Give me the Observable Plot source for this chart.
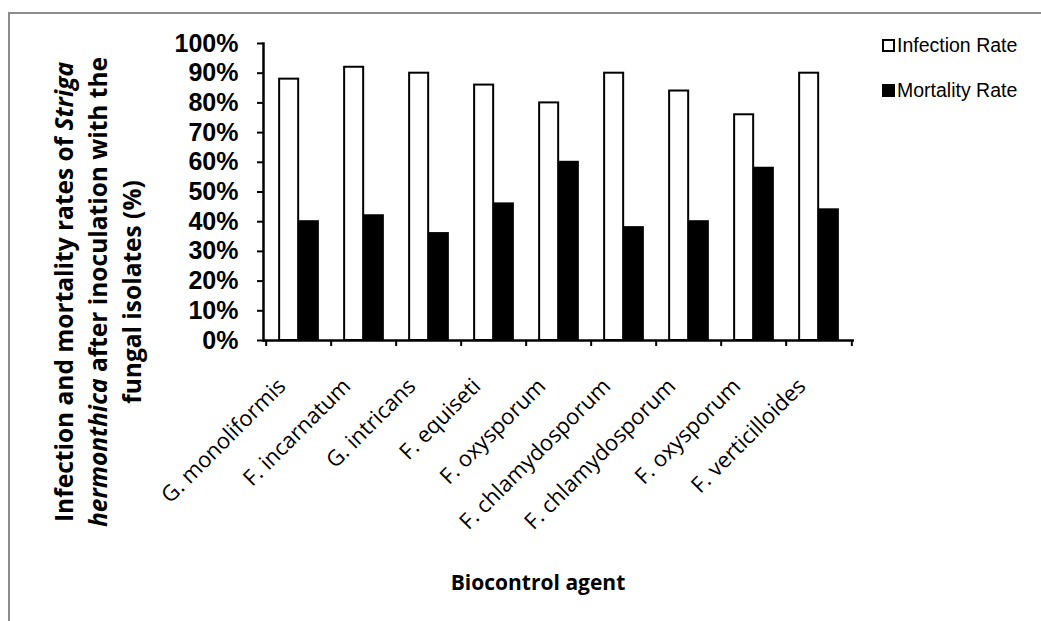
<!DOCTYPE html>
<html>
<head>
<meta charset="utf-8">
<script src="https://cdn.jsdelivr.net/npm/d3@7"></script>
<script src="https://cdn.jsdelivr.net/npm/@observablehq/plot@0.6"></script>
<style>
  html, body { margin: 0; padding: 0; background: #fff; }
  #wrap { position: relative; width: 1041px; height: 621px; overflow: hidden; }
  #frame { position: absolute; left: 8px; top: 12px; width: 1100px; height: 700px;
           border-top: 2px solid #8c8c8c; border-left: 2px solid #8c8c8c; }
  #chart { position: absolute; left: 0; top: 0; }
  #ytitle { position: absolute; left: 98px; top: 292px; width: 560px;
            transform: translate(-50%, -50%) rotate(-90deg);
            font-family: "Open Sans", Lato, sans-serif; font-weight: bold; font-size: 24.5px;
            line-height: 34px; text-align: center; color: #000; white-space: nowrap; }
  #xtitle { position: absolute; left: 538px; top: 582px; transform: translate(-50%, -50%);
            font-family: "Open Sans", Lato, sans-serif; font-weight: bold; font-size: 21px; color: #000; white-space: nowrap; }
  #legend { position: absolute; left: 882px; top: 33px; font-family: "Liberation Sans", Arial, sans-serif;
            font-size: 19.5px; color: #000; }
  .item { display: flex; align-items: center; height: 24px; margin-bottom: 21px; }
  .sw { width: 9px; height: 9px; border: 2px solid #000; margin-right: 2px; box-sizing: content-box; }
</style>
</head>
<body>
<div id="wrap">
  <div id="frame"></div>
  <div id="chart"></div>
  <div id="ytitle">Infection and mortality rates of <i>Striga</i><br><i>hermonthica</i> after inoculation with the<br>fungal isolates (%)</div>
  <div id="xtitle">Biocontrol agent</div>
  <div id="legend"></div>
</div>
<script>
const categories = ["G. monoliformis", "F. incarnatum", "G. intricans", "F. equiseti", "F. oxysporum",
  "F. chlamydosporum", "F. chlamydosporum ", "F. oxysporum ", "F. verticilloides"];
const infectionRate = [88, 92, 90, 86, 80, 90, 84, 76, 90];
const mortalityRate = [40, 42, 36, 46, 60, 38, 40, 58, 44];
const seriesNames = ["Infection Rate", "Mortality Rate"];
const seriesColors = ["#ffffff", "#000000"];
const yTicks = [0, 10, 20, 30, 40, 50, 60, 70, 80, 90, 100];

const W = 1041, H = 621;
const mL = 263, mR = 187, mT = 43, mB = H - 340;
const step = (W - mL - mR) / categories.length;
const barW = step * 0.3;
const outer = (step - 2 * barW) / 2;

const infData = categories.map((c, i) => ({cat: c, v: infectionRate[i]}));
const morData = categories.map((c, i) => ({cat: c, v: mortalityRate[i]}));

const chart = Plot.plot({
  width: W, height: H,
  marginLeft: mL, marginRight: mR, marginTop: mT, marginBottom: mB,
  style: {background: "transparent", color: "#000", overflow: "visible"},
  x: {domain: categories, padding: 0},
  y: {domain: [0, 100]},
  marks: [
    Plot.barY(infData, {x: "cat", y: "v", fill: seriesColors[0], stroke: "#000", strokeWidth: 2,
      insetLeft: outer, insetRight: outer + barW}),
    Plot.barY(morData, {x: "cat", y: "v", fill: seriesColors[1], stroke: "#000", strokeWidth: 2,
      insetLeft: outer + barW, insetRight: outer}),
    Plot.frame({anchor: "left", strokeWidth: 2.5}),
    Plot.ruleY([0], {strokeWidth: 2.5}),
    Plot.axisY(yTicks, {tickSize: 6, strokeWidth: 2, tickPadding: 19, tickFormat: d => d + "%",
      fontSize: 25, fontWeight: "bold", fontFamily: "Liberation Sans, Arial, sans-serif", label: null}),
    Plot.axisX(categories, {tickSize: 6, strokeWidth: 2, fill: "none", dx: -step / 2, label: null}),
    Plot.axisX([categories[categories.length - 1]], {tickSize: 6, strokeWidth: 2, fill: "none", dx: step / 2, label: null}),
    Plot.axisX(categories, {tickSize: 0, tickRotate: -45, tickPadding: 42, textAnchor: "end", dx: -17,
      tickFormat: d => d.trim(), fontSize: 22, fontFamily: "Open Sans, Lato, sans-serif", label: null})
  ]
});
document.getElementById("chart").appendChild(chart);

const leg = document.getElementById("legend");
seriesNames.forEach((n, i) => {
  const it = document.createElement("div");
  it.className = "item";
  const sw = document.createElement("span");
  sw.className = "sw";
  sw.style.background = seriesColors[i];
  it.appendChild(sw);
  it.appendChild(document.createTextNode(n));
  leg.appendChild(it);
});
</script>
</body>
</html>
